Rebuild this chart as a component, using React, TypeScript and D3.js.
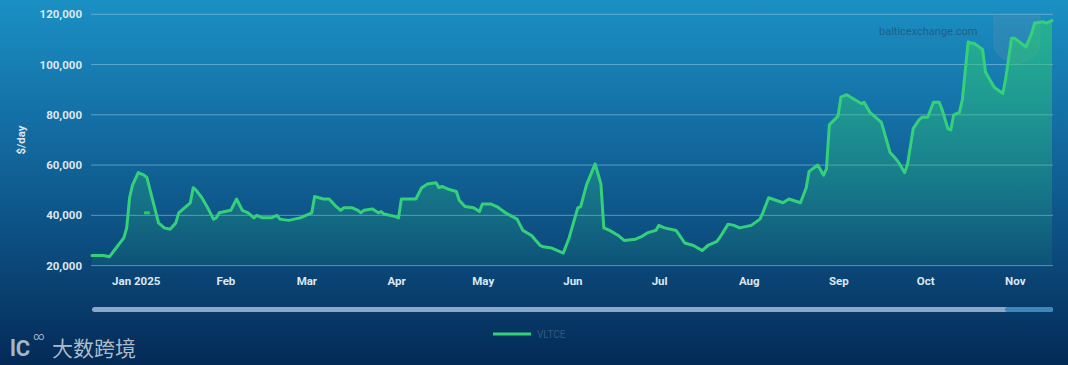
import React from 'react';
import * as d3 from 'd3';

// VLTCE time charter equivalent, $/day
const dates = [
  '2024-12-16', '2024-12-20', '2024-12-22', '2024-12-25', '2024-12-27', '2024-12-28', '2024-12-29', '2024-12-30',
  '2025-01-01', '2025-01-03', '2025-01-04', '2025-01-06', '2025-01-08', '2025-01-10', '2025-01-12', '2025-01-14',
  '2025-01-15', '2025-01-16', '2025-01-19', '2025-01-20', '2025-01-21', '2025-01-23', '2025-01-25', '2025-01-27',
  '2025-01-28', '2025-01-29', '2025-02-02', '2025-02-04', '2025-02-06', '2025-02-08', '2025-02-10', '2025-02-11',
  '2025-02-13', '2025-02-16', '2025-02-18', '2025-02-19', '2025-02-22', '2025-02-26', '2025-03-02', '2025-03-03',
  '2025-03-06', '2025-03-08', '2025-03-10', '2025-03-12', '2025-03-13', '2025-03-16', '2025-03-18', '2025-03-19',
  '2025-03-20', '2025-03-23', '2025-03-25', '2025-03-26', '2025-03-27', '2025-03-31', '2025-04-01', '2025-04-02',
  '2025-04-07', '2025-04-09', '2025-04-11', '2025-04-14', '2025-04-15', '2025-04-16', '2025-04-18', '2025-04-21',
  '2025-04-22', '2025-04-24', '2025-04-27', '2025-04-29', '2025-04-30', '2025-05-03', '2025-05-05', '2025-05-08',
  '2025-05-12', '2025-05-14', '2025-05-17', '2025-05-20', '2025-05-21', '2025-05-24', '2025-05-28', '2025-05-30',
  '2025-06-02', '2025-06-03', '2025-06-05', '2025-06-08', '2025-06-10', '2025-06-11', '2025-06-13', '2025-06-16',
  '2025-06-18', '2025-06-22', '2025-06-24', '2025-06-26', '2025-06-29', '2025-06-30', '2025-07-02', '2025-07-06',
  '2025-07-09', '2025-07-12', '2025-07-15', '2025-07-17', '2025-07-18', '2025-07-20', '2025-07-21', '2025-07-24',
  '2025-07-26', '2025-07-28', '2025-07-30', '2025-08-01', '2025-08-04', '2025-08-05', '2025-08-07', '2025-08-12',
  '2025-08-14', '2025-08-18', '2025-08-20', '2025-08-21', '2025-08-24', '2025-08-26', '2025-08-27', '2025-08-28',
  '2025-08-31', '2025-09-01', '2025-09-03', '2025-09-08', '2025-09-09', '2025-09-11', '2025-09-15', '2025-09-18',
  '2025-09-20', '2025-09-21', '2025-09-23', '2025-09-24', '2025-09-26', '2025-09-28', '2025-09-29', '2025-10-01',
  '2025-10-03', '2025-10-05', '2025-10-06', '2025-10-08', '2025-10-09', '2025-10-10', '2025-10-12', '2025-10-13',
  '2025-10-15', '2025-10-16', '2025-10-17', '2025-10-20', '2025-10-21', '2025-10-22', '2025-10-24', '2025-10-27',
  '2025-10-28', '2025-10-30', '2025-10-31', '2025-11-04', '2025-11-06', '2025-11-07', '2025-11-10', '2025-11-11',
  '2025-11-13',
];

const values = [
  24000, 24000, 23500, 28000, 31000, 35000, 47000, 52000,
  57000, 56000, 55000, 46000, 37000, 35000, 34500, 37000,
  41000, 42000, 45000, 51000, 50000, 47000, 43000, 38500,
  39000, 41000, 42000, 46500, 42000, 41000, 39000, 40000,
  39000, 39000, 40000, 38500, 38000, 39000, 41000, 47500,
  46500, 46500, 44000, 42000, 43000, 43000, 42000, 41000,
  42000, 42500, 41000, 41500, 40500, 39500, 39000, 46500,
  46500, 51000, 52500, 53000, 51000, 51500, 50500, 49500,
  46000, 43500, 43000, 41500, 44500, 44500, 43500, 41000,
  38500, 34000, 32000, 28000, 27500, 27000, 25000, 31000,
  43000, 43500, 52000, 60500, 52500, 35000, 34000, 32000,
  30000, 30500, 31500, 33000, 34000, 36000, 35000, 34000,
  29000, 28000, 26000, 28000, 28500, 29500, 31000, 36500,
  36000, 35000, 35500, 36000, 38500, 41000, 47000, 45000,
  46500, 45000, 51000, 57500, 60000, 56000, 58500, 76000,
  79500, 87000, 88000, 84500, 85000, 81000, 77000, 65000,
  62500, 61000, 57000, 60000, 74500, 78000, 79000, 79000,
  85000, 85000, 82000, 74500, 74000, 80000, 81000, 86000,
  109000, 108500, 108500, 106000, 97000, 95000, 91000, 88500,
  94500, 110500, 110500, 107000, 112500, 116500, 117000, 116500,
  117500,
];

// short detached piece near early January
const strayDates = ['2025-01-03', '2025-01-05'];
const strayValues = [41000, 41000];

const yTicks = [20000, 40000, 60000, 80000, 100000, 120000];
const monthTicks = [
  '2025-01-01', '2025-02-01', '2025-03-01', '2025-04-01', '2025-05-01', '2025-06-01',
  '2025-07-01', '2025-08-01', '2025-09-01', '2025-10-01', '2025-11-01',
];
const monthLabels = ['Jan 2025', 'Feb', 'Mar', 'Apr', 'May', 'Jun', 'Jul', 'Aug', 'Sep', 'Oct', 'Nov'];
const seriesName = 'VLTCE';

const W = 1068;
const H = 365;
const parse = d3.utcParse('%Y-%m-%d');

export default function App() {
  const x = d3
    .scaleUtc()
    .domain([parse('2024-12-16') as Date, parse('2025-11-13') as Date])
    .range([92, 1052]);
  const y = d3.scaleLinear().domain([20000, 120000]).range([265.6, 14.3]);

  const pts = dates.map((d, i) => ({ date: parse(d) as Date, value: values[i] }));
  const stray = strayDates.map((d, i) => ({ date: parse(d) as Date, value: strayValues[i] }));

  const line = d3
    .line<{ date: Date; value: number }>()
    .x((d) => x(d.date))
    .y((d) => y(d.value));
  const area = d3
    .area<{ date: Date; value: number }>()
    .x((d) => x(d.date))
    .y0(y(20000))
    .y1((d) => y(d.value));

  const fmt = d3.format(',');
  const font = 'Roboto, "Liberation Sans", Arial, sans-serif';

  return (
    <svg
      width={W}
      height={H}
      style={{ position: 'absolute', left: 0, top: 0, display: 'block' }}
      fontFamily={font}
    >
      <defs>
        <linearGradient id="bg" x1="0" y1="0" x2="0" y2="1">
          <stop offset="0%" stopColor="#1b90c3" />
          <stop offset="35%" stopColor="#136da3" />
          <stop offset="72%" stopColor="#0b4879" />
          <stop offset="100%" stopColor="#042a57" />
        </linearGradient>
        <linearGradient id="fill" gradientUnits="userSpaceOnUse" x1="0" y1="14" x2="0" y2="266">
          <stop offset="0%" stopColor="#2ecc71" stopOpacity={0.6} />
          <stop offset="100%" stopColor="#2ecc71" stopOpacity={0.08} />
        </linearGradient>
      </defs>
      <rect x={0} y={0} width={W} height={H} fill="url(#bg)" />

      {/* grid */}
      {yTicks.map((t) => (
        <line
          key={t}
          x1={91}
          x2={1053}
          y1={y(t)}
          y2={y(t)}
          stroke="#9ccbe6"
          strokeOpacity={0.55}
          strokeWidth={1}
        />
      ))}

      {/* watermark */}
      <text x={879} y={34.5} fontSize={11} fill="#245479" fillOpacity={0.8}>
        balticexchange.com
      </text>
      <path
        d="M994,16 L1040,16 L1040,44 Q1040,58 1017,64 Q994,58 994,44 Z"
        fill="#6f90ad"
        fillOpacity={0.22}
        stroke="#6f90ad"
        strokeOpacity={0.3}
      />

      {/* series */}
      <path d={area(pts) ?? ''} fill="url(#fill)" />
      <path
        d={line(pts) ?? ''}
        fill="none"
        stroke="#34d17a"
        strokeWidth={3}
        strokeLinejoin="round"
        strokeLinecap="round"
      />
      <path d={line(stray) ?? ''} fill="none" stroke="#2fc95a" strokeWidth={3} />

      {/* y axis */}
      {yTicks.map((t) => (
        <text
          key={t}
          x={82}
          y={y(t) + 4}
          textAnchor="end"
          fontSize={11.5}
          fontWeight={700}
          fill="#dce8f2"
        >
          {fmt(t)}
        </text>
      ))}
      <text
        transform="translate(25,140) rotate(-90)"
        textAnchor="middle"
        fontSize={11.5}
        fontWeight={700}
        fill="#dce8f2"
      >
        $/day
      </text>

      {/* x axis */}
      {monthTicks.map((m, i) => (
        <text
          key={m}
          x={x(parse(m) as Date) - 2}
          y={284.5}
          textAnchor="middle"
          fontSize={11.5}
          fontWeight={700}
          fill="#dce8f2"
        >
          {monthLabels[i]}
        </text>
      ))}

      {/* navigator scrollbar */}
      <rect x={92} y={307} width={961} height={5} rx={2.5} fill="#8ca8c6" />
      <rect x={1005} y={307} width={48} height={5} rx={2.5} fill="#3c87ba" />

      {/* legend */}
      <line x1={493} x2={531} y1={334} y2={334} stroke="#34d17a" strokeWidth={3} />
      <text x={537} y={337.5} fontSize={10} fill="#33587c">
        {seriesName}
      </text>

      {/* site watermark */}
      <text x={10} y={356} fontSize={22} fontWeight={700} fill="#c5cfd9" fillOpacity={0.85}>
        lC
      </text>
      <text x={33} y={340} fontSize={11} fill="#c5cfd9" fillOpacity={0.85}>
        ∞
      </text>
      <text x={52} y={356} fontSize={21} fill="#c5cfd9" fillOpacity={0.9}
        fontFamily='"Noto Sans CJK SC", sans-serif'>
        大数跨境
      </text>
    </svg>
  );
}
